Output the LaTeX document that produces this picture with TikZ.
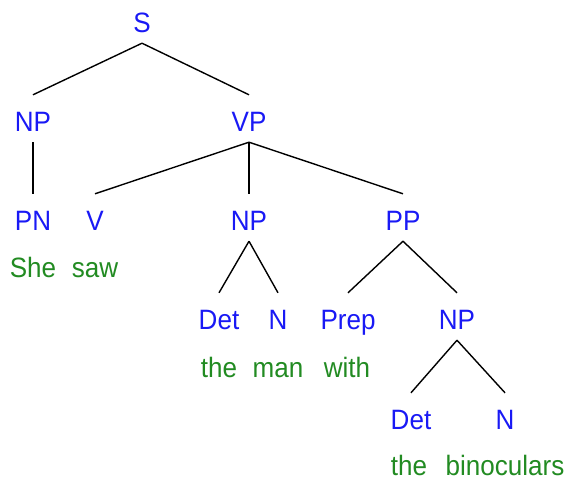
\documentclass[tikz,border=0pt]{standalone}
\usepackage{fontspec}
\setmainfont{Liberation Sans}
\newfontfamily\treefont[FakeStretch=0.93]{Liberation Sans}
\definecolor{catblue}{RGB}{25,25,245}
\definecolor{wordgreen}{RGB}{34,139,34}
\begin{document}
\begin{tikzpicture}[x=1pt,y=-1pt,
  cat/.style={anchor=base, text=catblue, font=\treefont\fontsize{28}{28}\selectfont,
    text height=28pt, text depth=3pt, inner ysep=8pt, inner xsep=0pt},
  word/.style={anchor=base, text=wordgreen, font=\treefont\fontsize{28}{28}\selectfont,
    inner sep=0pt},
  branch/.style={line width=1.4pt}]
\useasboundingbox (0,0) rectangle (568,485);

% category labels
\node[cat] (s)    at (142,32)  {S};
\node[cat] (np1)  at (33,131)  {NP};
\node[cat] (vp)   at (249,131) {VP};
\node[cat] (pn)   at (33,230)  {PN};
\node[cat] (v)    at (95,230)  {V};
\node[cat] (np2)  at (249,230) {NP};
\node[cat] (pp)   at (403,230) {PP};
\node[cat] (det1) at (219,329) {Det};
\node[cat] (n1)   at (278,329) {N};
\node[cat] (prep) at (348,329) {Prep};
\node[cat] (np3)  at (457,329) {NP};
\node[cat] (det2) at (411,429) {Det};
\node[cat] (n2)   at (505,429) {N};

% words
\node[word] (she)  at (33,277)  {She};
\node[word] (saw)  at (95,277)  {saw};
\node[word] (the1) at (219,377) {the};
\node[word] (man)  at (278,377) {man};
\node[word] (with) at (347,377) {with};
\node[word] (the2) at (409,475) {the};
\node[word] (bino) at (505,475) {binoculars};

% branches
\draw[branch] (s.south) -- (np1.north);
\draw[branch] (s.south) -- (vp.north);
\draw[branch] (np1.south) -- (pn.north);
\draw[branch] (vp.south) -- (v.north);
\draw[branch] (vp.south) -- (np2.north);
\draw[branch] (vp.south) -- (pp.north);
\draw[branch] (np2.south) -- (det1.north);
\draw[branch] (np2.south) -- (n1.north);
\draw[branch] (pp.south) -- (prep.north);
\draw[branch] (pp.south) -- (np3.north);
\draw[branch] (np3.south) -- (det2.north);
\draw[branch] (np3.south) -- (n2.north);
\end{tikzpicture}
\end{document}
